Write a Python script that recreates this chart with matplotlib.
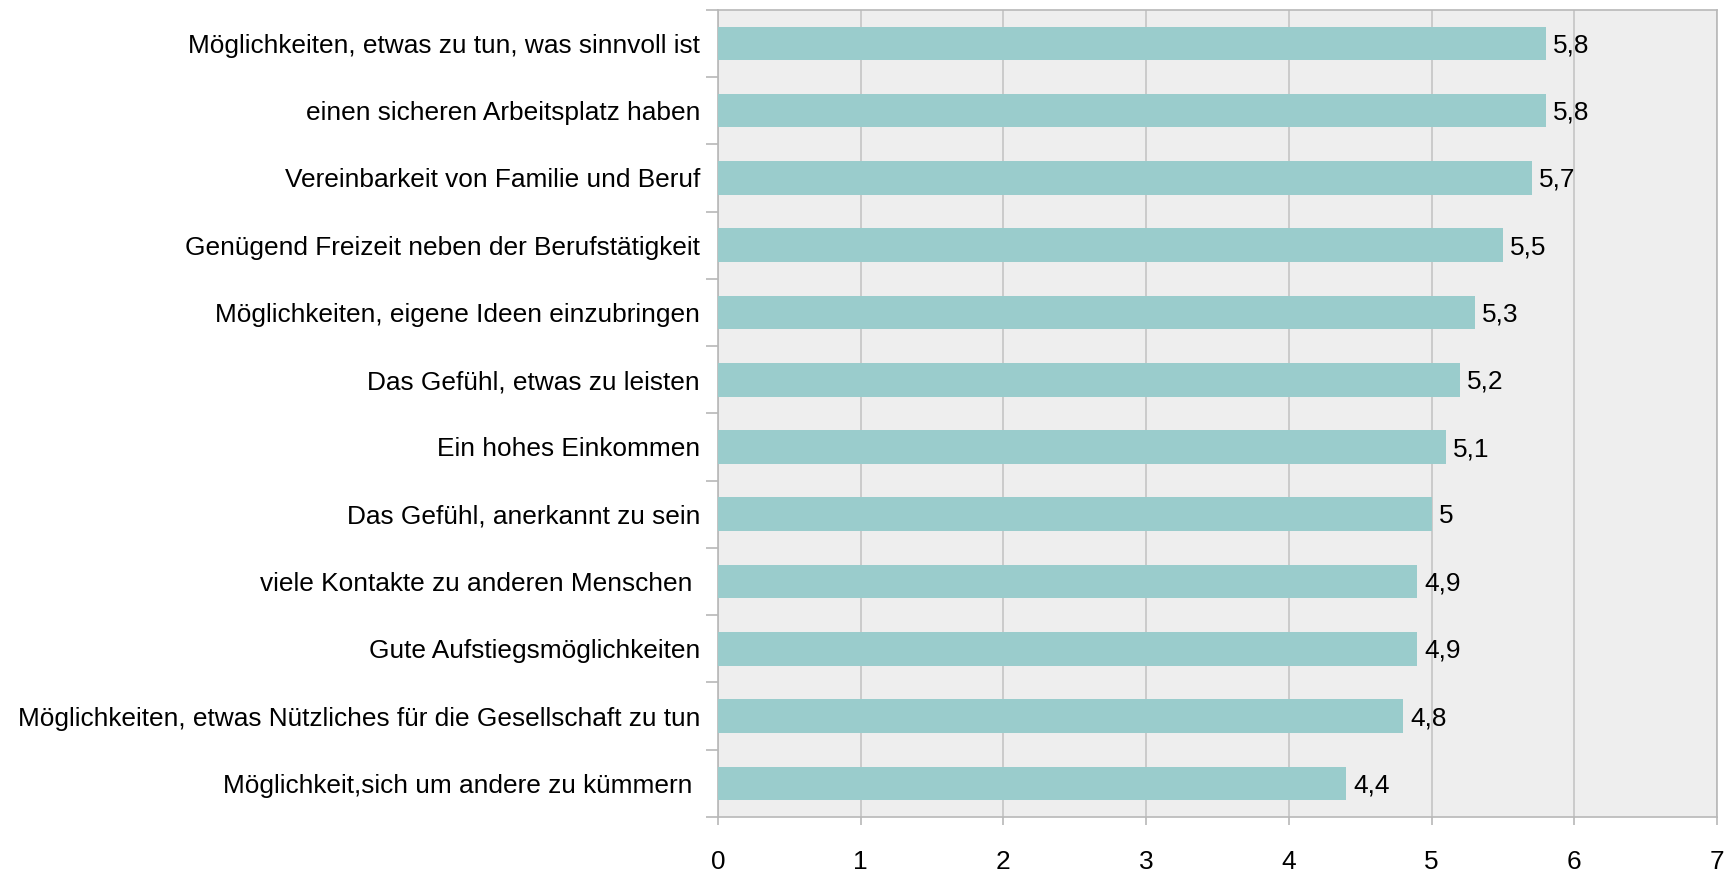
import matplotlib.pyplot as plt
import numpy as np

# Kategorien von oben nach unten, mit Mittelwerten
labels = [
    "Möglichkeiten, etwas zu tun, was sinnvoll ist",
    "einen sicheren Arbeitsplatz haben",
    "Vereinbarkeit von Familie und Beruf",
    "Genügend Freizeit neben der Berufstätigkeit",
    "Möglichkeiten, eigene Ideen einzubringen",
    "Das Gefühl, etwas zu leisten",
    "Ein hohes Einkommen",
    "Das Gefühl, anerkannt zu sein",
    "viele Kontakte zu anderen Menschen ",
    "Gute Aufstiegsmöglichkeiten",
    "Möglichkeiten, etwas Nützliches für die Gesellschaft zu tun",
    "Möglichkeit,sich um andere zu kümmern ",
]
werte = [5.8, 5.8, 5.7, 5.5, 5.3, 5.2, 5.1, 5, 4.9, 4.9, 4.8, 4.4]
xticks = [0, 1, 2, 3, 4, 5, 6, 7]

plt.rcParams['font.family'] = ['Liberation Sans', 'DejaVu Sans']
fs = 18.9

fig = plt.figure(figsize=(17.31, 8.82), dpi=100)
ax = fig.add_axes([0.4148, 0.0737, 0.992 - 0.4148, 0.989 - 0.0737])

y = np.arange(len(labels))
ax.set_facecolor('#EEEEEE')
ax.grid(axis='x', color='#C4C4C4', linewidth=1.2)
ax.set_axisbelow(True)
bars = ax.barh(y, werte, height=0.5, color='#9ACCCC', zorder=3)

for b, v in zip(bars, werte):
    txt = ('%g' % v).replace('.', ',')
    ax.text(b.get_width() + 0.05, b.get_y() + b.get_height() / 2 + 0.03, txt,
            va='center', ha='left', fontsize=fs, color='black', zorder=4)

ax.set_xlim(0, 7)
ax.set_ylim(len(labels) - 0.5, -0.5)
ax.set_xticks(xticks)
ax.set_xticklabels([str(t) for t in xticks], fontsize=fs)
ax.set_yticks(y)
ax.set_yticklabels(labels, fontsize=fs)
ax.set_yticks(np.arange(-0.5, len(labels)), minor=True)
ax.tick_params(axis='y', which='major', length=0, pad=13)
ax.tick_params(axis='y', which='minor', length=9, color='#B8B8B8', width=1.2)
ax.tick_params(axis='x', length=6, color='#B8B8B8', width=1.2, pad=18)

for s in ax.spines.values():
    s.set_color('#B8B8B8')
    s.set_linewidth(1.2)

fig.savefig('out.png', dpi=100)
